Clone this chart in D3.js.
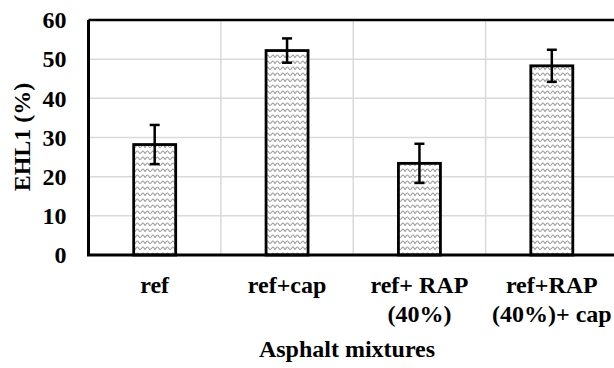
<!DOCTYPE html>
<html><head><meta charset="utf-8">
<script src="https://cdn.jsdelivr.net/npm/d3@7"></script>
<style>
body{margin:0;background:#fff}svg{display:block}
svg text{font-family:"Liberation Serif","Times New Roman","Nimbus Roman","Nimbus Roman No9 L",FreeSerif,"Noto Serif","Noto Serif CJK SC",Tinos,Times,"DejaVu Serif",serif;font-weight:bold;font-size:24px;fill:#000}
</style>
</head><body>
<svg id="c" width="614" height="368"></svg>
<script>
const categories = [["ref"], ["ref+cap"], ["ref+ RAP", "(40%)"], ["ref+RAP", "(40%)+ cap"]];
const values = [28.2, 52.2, 23.4, 48.3];
const errors = [5.0, 3.1, 5.0, 4.1];
const yTicks = [0, 10, 20, 30, 40, 50, 60];
const yTitle = "EHL1 (%)";
const xTitle = "Asphalt mixtures";

const svg = d3.select("#c");
const m = {left: 88.5, right: 618, top: 20, bottom: 255};

const defs = svg.append("defs");
const pat = defs.append("pattern").attr("id","wave").attr("patternUnits","userSpaceOnUse")
  .attr("width",10).attr("height",6);
pat.append("rect").attr("width",10).attr("height",6).attr("fill","#fff");
pat.append("path")
  .attr("d","M0,3.5 C1.5,3.5 2,1 3,1 C4,1 4.5,3.5 5,3.5 C5.5,3.5 6,1 7.5,1 C8.5,1 9,3.5 10,3.5")
  .attr("fill","none").attr("stroke","#9a9a9a").attr("stroke-width",1.1);

const x = d3.scaleBand().domain(d3.range(categories.length)).range([m.left, m.right]).paddingInner(0).paddingOuter(0);
const y = d3.scaleLinear().domain([0, 60]).range([m.bottom, m.top]);
const barW = 42;

svg.append("g").selectAll("line").data(yTicks.slice(1)).join("line")
  .attr("x1", m.left).attr("x2", m.right).attr("y1", d=>y(d)).attr("y2", d=>y(d))
  .attr("stroke","#d9d9d9").attr("stroke-width",1.5);
svg.append("g").selectAll("line").data(d3.range(1, categories.length)).join("line")
  .attr("x1", d=>x(d)).attr("x2", d=>x(d)).attr("y1", m.top).attr("y2", m.bottom)
  .attr("stroke","#d9d9d9").attr("stroke-width",1.5);

svg.append("g").selectAll("rect").data(values).join("rect")
  .attr("x",(d,i)=>x(i)+x.bandwidth()/2-barW/2).attr("width",barW)
  .attr("y",d=>y(d)).attr("height",d=>y(0)-y(d))
  .attr("fill","url(#wave)").attr("stroke","#000").attr("stroke-width",2.8);

const eb = svg.append("g").attr("stroke","#000").attr("stroke-width",2.5);
values.forEach((v,i)=>{
  const cx = x(i)+x.bandwidth()/2;
  eb.append("line").attr("x1",cx).attr("x2",cx).attr("y1",y(v+errors[i])).attr("y2",y(v-errors[i]));
  eb.append("line").attr("x1",cx-5).attr("x2",cx+5).attr("y1",y(v+errors[i])).attr("y2",y(v+errors[i]));
  eb.append("line").attr("x1",cx-5).attr("x2",cx+5).attr("y1",y(v-errors[i])).attr("y2",y(v-errors[i]));
});

svg.append("line").attr("x1",m.left).attr("x2",m.right).attr("y1",m.top).attr("y2",m.top).attr("stroke","#000").attr("stroke-width",2.5);
svg.append("line").attr("x1",m.left).attr("x2",m.left).attr("y1",m.top).attr("y2",m.bottom).attr("stroke","#000").attr("stroke-width",3);
svg.append("line").attr("x1",m.left-1.5).attr("x2",m.right).attr("y1",m.bottom).attr("y2",m.bottom).attr("stroke","#000").attr("stroke-width",3);

const yAxis = d3.axisLeft(y).tickValues(yTicks).tickSize(0).tickPadding(22);
const ya = svg.append("g").attr("transform",`translate(${m.left},0)`).call(yAxis);
ya.select(".domain").remove();
ya.attr("font-family",null).attr("font-size",null);
ya.selectAll("text").attr("fill","#000");

const xl = svg.append("g");
categories.forEach((lines,i)=>{
  const cx = x(i)+x.bandwidth()/2;
  const t = xl.append("text").attr("x",cx).attr("y",293).attr("text-anchor","middle");
  lines.forEach((s,j)=>t.append("tspan").attr("x",cx).attr("dy",j?29:0).text(s));
});

svg.append("text").attr("x",347).attr("y",357).attr("text-anchor","middle").text(xTitle);
svg.append("text").attr("transform","translate(30,137) rotate(-90)").attr("text-anchor","middle").text(yTitle);
</script>
</body></html>
